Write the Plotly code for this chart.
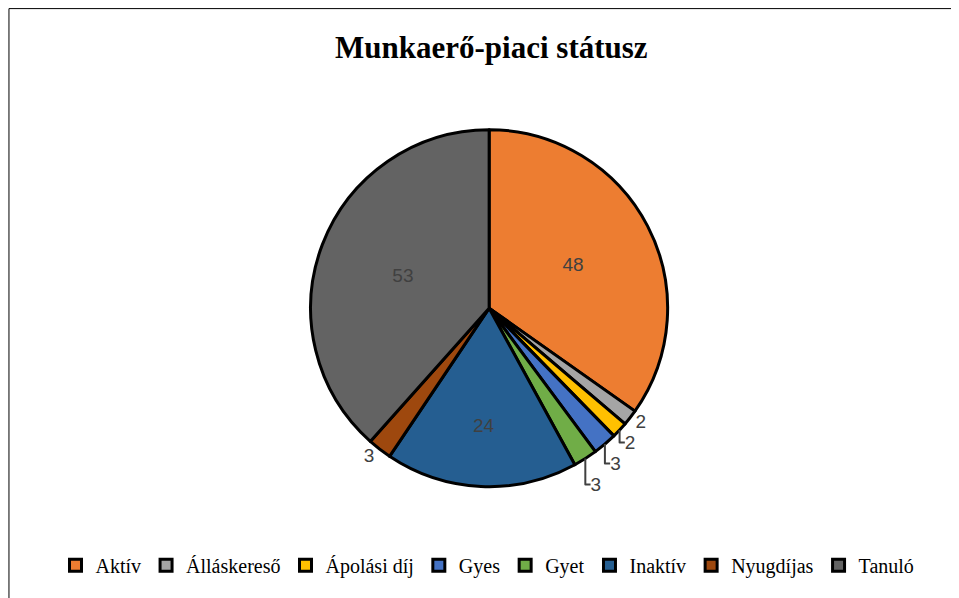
import plotly.graph_objects as go

categories = ["Aktív", "Álláskereső", "Ápolási díj", "Gyes", "Gyet", "Inaktív", "Nyugdíjas", "Tanuló"]
values = [48, 2, 2, 3, 3, 24, 3, 53]
colors = ["#ED7D31", "#A5A5A5", "#FFC000", "#4472C4", "#70AD47", "#255E91", "#9E480E", "#636363"]
text_positions = ["inside", "outside", "outside", "outside", "outside", "inside", "outside", "inside"]

fig = go.Figure(go.Pie(
    labels=categories,
    values=values,
    sort=False,
    direction="clockwise",
    rotation=0,
    marker=dict(colors=colors, line=dict(color="#000000", width=3)),
    textinfo="value",
    textposition=text_positions,
    insidetextorientation="horizontal",
    textfont=dict(family="Liberation Sans", size=19, color="#404040"),
    outsidetextfont=dict(family="Liberation Sans", size=19, color="#404040"),
    insidetextfont=dict(family="Liberation Sans", size=19, color="#404040"),
    domain=dict(x=[0.2817, 0.7217], y=[0.1995, 0.7965]),
    hoverinfo="label+value",
))

fig.update_layout(
    width=959, height=598,
    margin=dict(l=0, r=0, t=0, b=0),
    paper_bgcolor="#FFFFFF",
    plot_bgcolor="#FFFFFF",
    title=dict(text="<b>Munkaerő-piaci státusz</b>", x=0.504, xanchor="center", y=0.935, yanchor="middle",
               font=dict(family="Liberation Serif", size=31, color="#000000")),
    legend=dict(orientation="h", x=0.5, xanchor="center", y=0.068, yanchor="middle",
                font=dict(family="Liberation Serif", size=20, color="#000000"),
                itemwidth=30, traceorder="normal"),
    shapes=[dict(type="rect", xref="paper", yref="paper", x0=0.001, x1=0.999, y0=0.001, y1=0.999,
                 line=dict(color="#000000", width=1))],
)

fig.write_html("out.html")
